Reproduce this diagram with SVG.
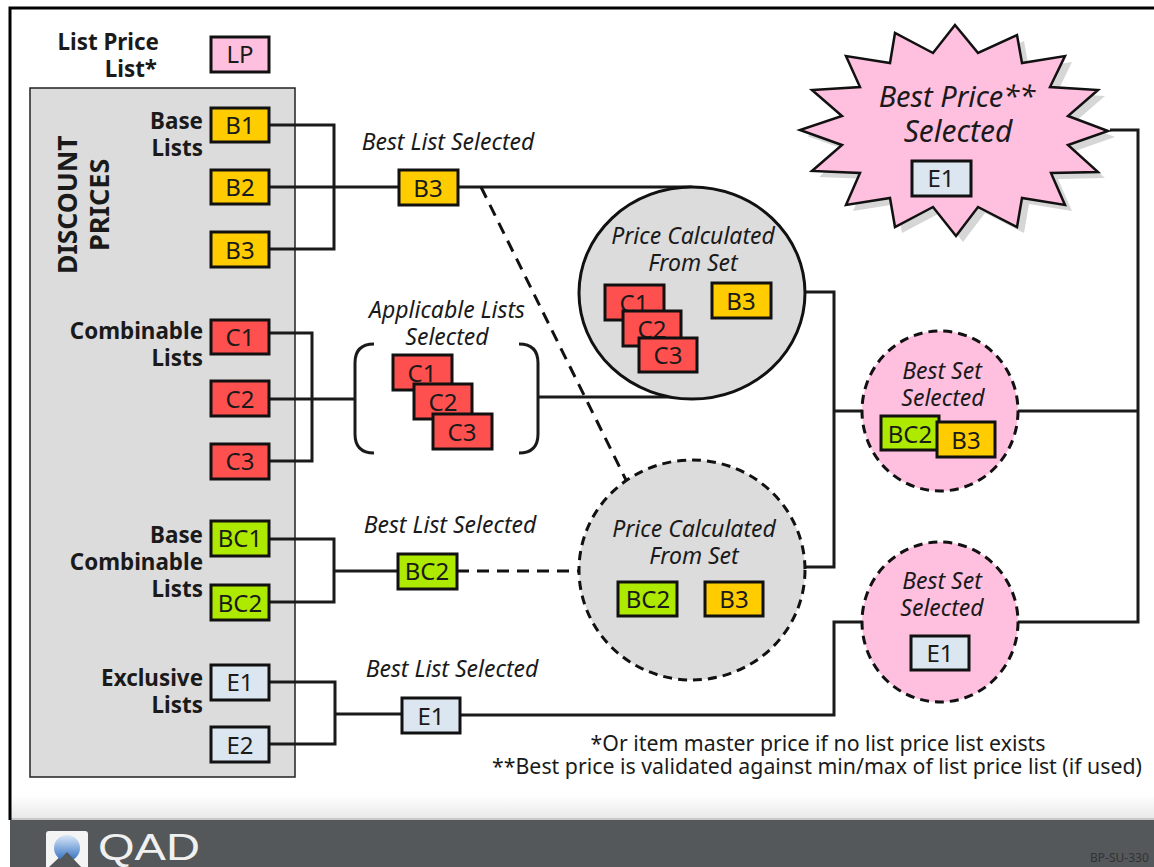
<svg xmlns="http://www.w3.org/2000/svg" width="1154" height="867" viewBox="0 0 1154 867">
<style>
text{font-family:"Noto Sans","DejaVu Sans",sans-serif;fill:#1a1a1a}
.b{font-size:24px;text-anchor:middle}
.l{font-size:22.4px;font-weight:700;text-anchor:end}
.i{font-size:23px;font-style:italic;text-anchor:middle}
.n{font-size:21.3px;text-anchor:middle}
rect.x{stroke:#111;stroke-width:3}
.pk{fill:#ffbfdf}.or{fill:#ffcc00}.rd{fill:#ff5050}.gr{fill:#aeea00}.bl{fill:#dce6f1}
.c{fill:none;stroke:#1a1a1a;stroke-width:3}
.d{fill:none;stroke:#111;stroke-width:3;stroke-dasharray:12 8}
.s{stroke:#111;stroke-width:3;fill:#dcdcdc}
.pc{fill:#ffbfdf;stroke:#111;stroke-width:3;stroke-dasharray:9 6}
</style>
<defs>
<linearGradient id="fg" x1="0" y1="0" x2="0" y2="1"><stop offset="0" stop-color="#fff"/><stop offset="1" stop-color="#e8e8e8"/></linearGradient>
<linearGradient id="ball" x1="0" y1="0" x2="0" y2="1"><stop offset="0" stop-color="#dbe8f8"/><stop offset="1" stop-color="#2f6fc0"/></linearGradient>
</defs>
<rect width="1154" height="867" fill="#fff"/>
<rect x="11" y="795" width="1143" height="24" fill="url(#fg)"/>
<rect x="10" y="819" width="1144" height="48" fill="#54585a"/>
<rect x="10" y="818" width="1144" height="2" fill="#c8c8c8"/>
<path d="M10 820V8H1154" fill="none" stroke="#000" stroke-width="3"/>
<g id="logo">
<path d="M46 834q0-3 3-3h36q3 0 3 3v33h-7l-17-14-15 14h-3z" fill="#f4f4f4"/>
<circle cx="67" cy="848" r="13" fill="url(#ball)"/>
<path d="M53 867l14-15 14 15z" fill="#54585a"/>
<text x="98" y="860" font-size="36" textLength="102" lengthAdjust="spacingAndGlyphs" style="font-family:'Liberation Sans',sans-serif;fill:#f0f0f0">QAD</text>
</g>
<text x="1090" y="862" style="font-size:12px;fill:#333;font-family:'Noto Sans',sans-serif">BP-SU-330</text>

<g id="panel">
<rect x="30" y="88" width="265" height="689" fill="#dcdcdc" stroke="#222" stroke-width="1.5"/>
<text transform="translate(77 274) rotate(-90)" style="font-size:26.5px;font-weight:700">DISCOUNT</text>
<text transform="translate(109 251) rotate(-90)" style="font-size:27px;font-weight:700">PRICES</text>
<text class="l" x="159" y="50">List Price</text><text class="l" x="157" y="77">List*</text>
<text class="l" x="203" y="129">Base</text><text class="l" x="203" y="156">Lists</text>
<text class="l" x="203" y="339">Combinable</text><text class="l" x="203" y="366">Lists</text>
<text class="l" x="203" y="543">Base</text><text class="l" x="203" y="570">Combinable</text><text class="l" x="203" y="597">Lists</text>
<text class="l" x="203" y="686">Exclusive</text><text class="l" x="203" y="713">Lists</text>
</g>

<g id="connectors">
<path class="c" d="M269 125H334V249H269M269 187H399M458 187H692"/>
<path class="c" d="M269 333H312V461H269M269 399H355M538 397H692"/>
<path class="c" d="M269 539H334V602H269M334 571H398"/>
<path class="c" d="M269 682H335V744H269M335 714H402M460 715H834V622H863"/>
<path class="c" d="M805 292H834V567H805M834 411H863"/>
<path class="c" d="M1110 130H1138V622H1018M1018 411H1138"/>
<path class="d" d="M481 187L627 482M457 571H579"/>
<path class="c" d="M374 344q-19 0-19 19V434q0 19 19 19M519 344q19 0 19 19V434q0 19-19 19"/>
</g>

<g id="star">
<path transform="translate(7 6)" fill="#d6d6d6" d="M955 25L978 53L1017 35L1022 63L1065 56L1050 87L1098 90L1068 116L1108 131L1068 145L1098 172L1051 173L1065 205L1022 198L1017 227L978 207L956 236L933 207L895 227L890 198L846 205L860 173L812 171L842 145L800 130L842 116L812 90L860 87L846 56L890 63L895 33L933 53z"/>
<path fill="#ffbfdf" stroke="#111" stroke-width="2.5" d="M955 25L978 53L1017 35L1022 63L1065 56L1050 87L1098 90L1068 116L1108 131L1068 145L1098 172L1051 173L1065 205L1022 198L1017 227L978 207L956 236L933 207L895 227L890 198L846 205L860 173L812 171L842 145L800 130L842 116L812 90L860 87L846 56L890 63L895 33L933 53z"/>
<text x="957" y="107" style="font-size:29px;font-style:italic;text-anchor:middle">Best Price**</text>
<text x="958" y="142" style="font-size:30px;font-style:italic;text-anchor:middle">Selected</text>
<rect class="x bl" x="912" y="161" width="59" height="35"/><text class="b" x="941" y="187">E1</text>
</g>

<g id="lp"><rect class="x pk" x="211" y="37" width="58" height="35"/><text class="b" x="240" y="63">LP</text></g>
<g id="b1"><rect class="x or" x="211" y="108" width="58" height="34"/><text class="b" x="240" y="134">B1</text></g>
<g id="b2"><rect class="x or" x="211" y="170" width="58" height="34"/><text class="b" x="240" y="196">B2</text></g>
<g id="b3"><rect class="x or" x="211" y="232" width="58" height="35"/><text class="b" x="240" y="259">B3</text></g>
<g id="c1"><rect class="x rd" x="211" y="320" width="58" height="34"/><text class="b" x="240" y="346">C1</text></g>
<g id="c2"><rect class="x rd" x="211" y="381" width="58" height="35"/><text class="b" x="240" y="408">C2</text></g>
<g id="c3"><rect class="x rd" x="211" y="444" width="58" height="35"/><text class="b" x="240" y="470">C3</text></g>
<g id="bc1"><rect class="x gr" x="211" y="521" width="58" height="35"/><text class="b" x="240" y="547">BC1</text></g>
<g id="bc2"><rect class="x gr" x="211" y="585" width="58" height="35"/><text class="b" x="240" y="612">BC2</text></g>
<g id="e1"><rect class="x bl" x="211" y="665" width="58" height="35"/><text class="b" x="240" y="691">E1</text></g>
<g id="e2"><rect class="x bl" x="211" y="727" width="58" height="35"/><text class="b" x="240" y="754">E2</text></g>

<g id="best-b3"><text class="i" x="448" y="150">Best List Selected</text><rect class="x or" x="399" y="170" width="59" height="35"/><text class="b" x="428" y="197">B3</text></g>
<g id="applicable">
<text class="i" x="447" y="318">Applicable Lists</text><text class="i" x="447" y="345">Selected</text>
<rect class="x rd" x="393" y="355" width="59" height="35"/><text class="b" x="422" y="382">C1</text>
<rect class="x rd" x="414" y="384" width="58" height="35"/><text class="b" x="443" y="411">C2</text>
<rect class="x rd" x="433" y="414" width="59" height="35"/><text class="b" x="462" y="441">C3</text>
</g>
<g id="calc1">
<ellipse class="s" cx="692" cy="293" rx="113" ry="106"/>
<text class="i" x="693" y="244">Price Calculated</text><text class="i" x="693" y="271">From Set</text>
<rect class="x rd" x="605" y="285" width="59" height="35"/><text class="b" x="634" y="312">C1</text>
<rect class="x rd" x="623" y="311" width="58" height="35"/><text class="b" x="652" y="338">C2</text>
<rect class="x rd" x="639" y="338" width="58" height="34"/><text class="b" x="668" y="364">C3</text>
<rect class="x or" x="712" y="283" width="59" height="35"/><text class="b" x="741" y="310">B3</text>
</g>
<g id="best-bc2"><text class="i" x="450" y="533">Best List Selected</text><rect class="x gr" x="398" y="554" width="59" height="35"/><text class="b" x="427" y="580">BC2</text></g>
<g id="calc2">
<ellipse class="s" cx="692" cy="570" rx="113" ry="110" stroke-dasharray="9 6"/>
<text class="i" x="694" y="537">Price Calculated</text><text class="i" x="694" y="564">From Set</text>
<rect class="x gr" x="618" y="582" width="59" height="34"/><text class="b" x="648" y="608">BC2</text>
<rect class="x or" x="705" y="582" width="58" height="34"/><text class="b" x="734" y="608">B3</text>
</g>
<g id="set1">
<ellipse class="pc" cx="940" cy="411" rx="78" ry="80"/>
<text class="i" x="942" y="379">Best Set</text><text class="i" x="943" y="406">Selected</text>
<rect class="x gr" x="881" y="416" width="58" height="34"/><text class="b" x="910" y="443">BC2</text>
<rect class="x or" x="937" y="422" width="58" height="35"/><text class="b" x="966" y="449">B3</text>
</g>
<g id="set2">
<ellipse class="pc" cx="940" cy="622" rx="78" ry="80"/>
<text class="i" x="942" y="589">Best Set</text><text class="i" x="942" y="616">Selected</text>
<rect class="x bl" x="911" y="636" width="58" height="34"/><text class="b" x="940" y="662">E1</text>
</g>
<g id="best-e1"><text class="i" x="452" y="677">Best List Selected</text><rect class="x bl" x="402" y="698" width="58" height="35"/><text class="b" x="431" y="725">E1</text></g>
<g id="notes">
<text class="n" x="818" y="751">*Or item master price if no list price list exists</text>
<text class="n" x="817" y="774">**Best price is validated against min/max of list price list (if used)</text>
</g>
</svg>
